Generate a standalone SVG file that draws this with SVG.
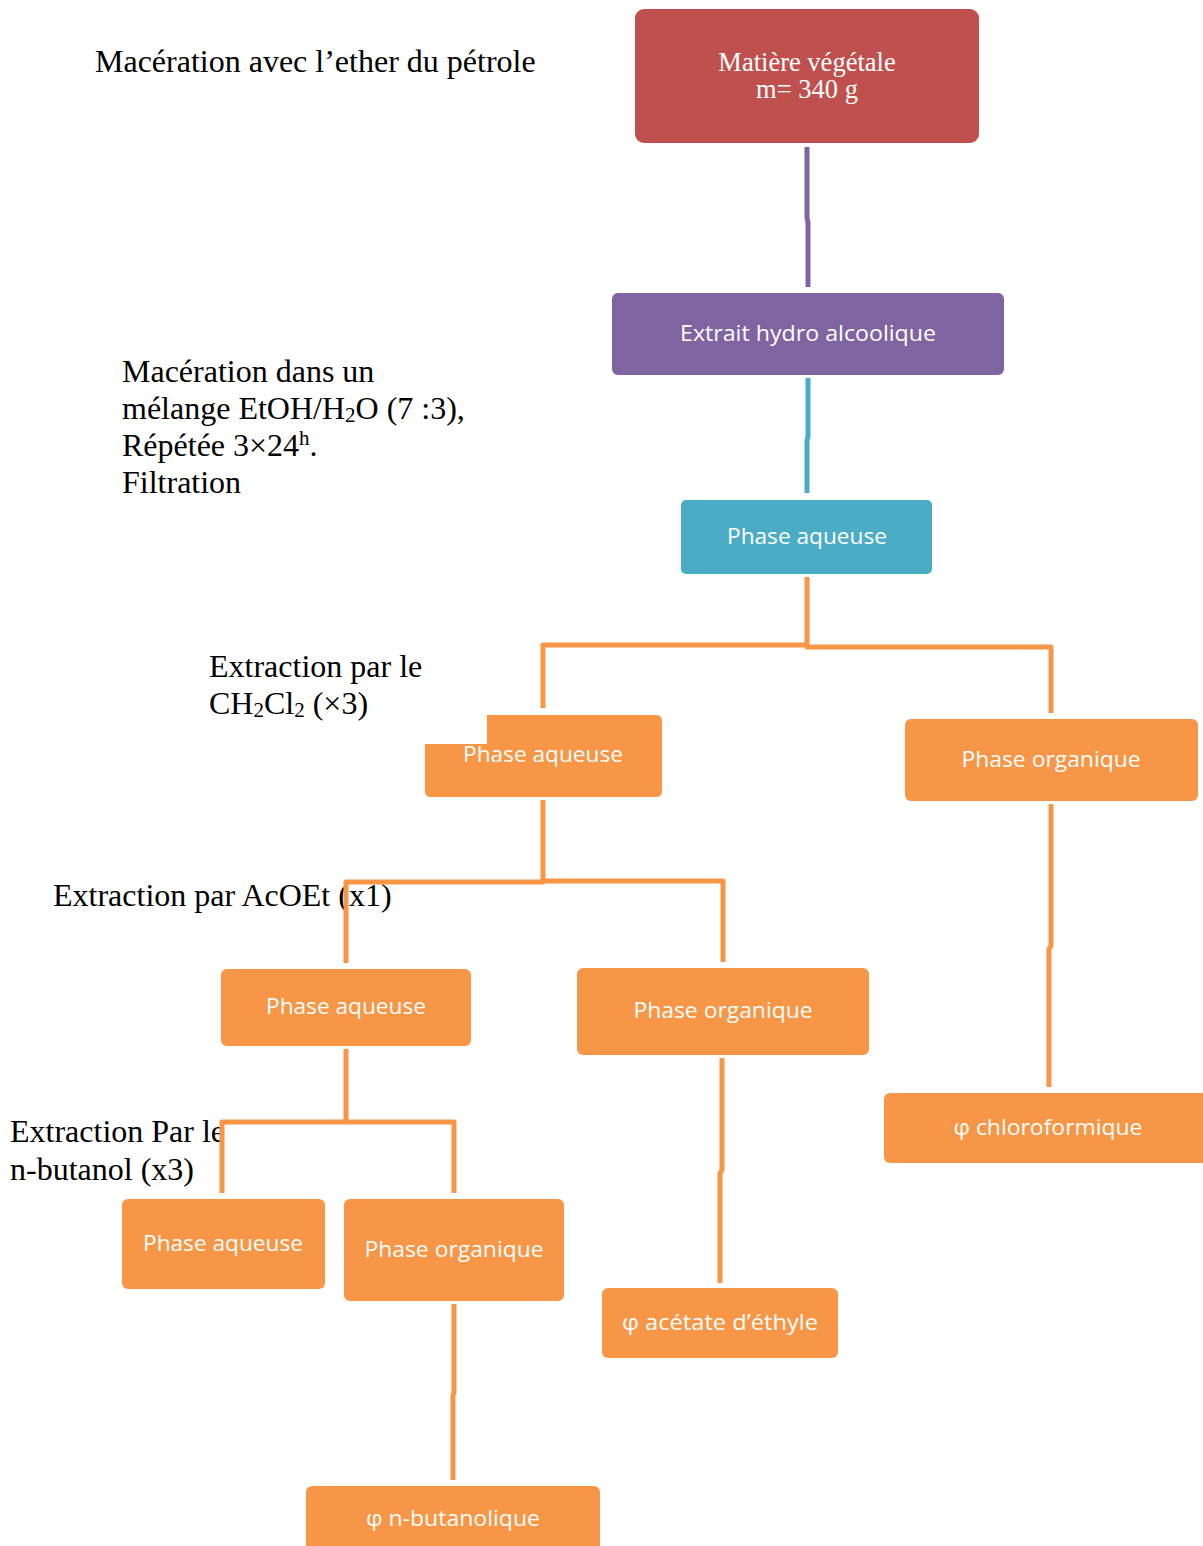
<svg xmlns="http://www.w3.org/2000/svg" width="1203" height="1546" viewBox="0 0 1203 1546">
<style>
.lbl{font-family:"Liberation Serif","Times New Roman",serif;font-size:32px;fill:#000}
.nt{font-family:"Open Sans","Noto Sans","DejaVu Sans",sans-serif;font-size:21px;fill:#fff;text-anchor:middle}
.or{fill:#F79646}
.c{fill:none;stroke-width:5;stroke-linejoin:round}
.co{stroke:#F79646}
.sb{font-size:21px;baseline-shift:-3px}
</style>
<rect width="1203" height="1546" fill="#fff"/>
<g id="labels">
<text class="lbl" x="95" y="72">Macération avec l’ether du pétrole</text>
<text class="lbl" x="122" y="382">Macération dans un</text>
<text class="lbl" x="122" y="419">mélange EtOH/H<tspan class="sb">2</tspan>O (7 :3),</text>
<text class="lbl" x="122" y="456">Répétée 3×24<tspan font-size="21" baseline-shift="11">h</tspan>.</text>
<text class="lbl" x="122" y="493">Filtration</text>
<text class="lbl" x="209" y="677">Extraction par le</text>
<text class="lbl" x="209" y="714">CH<tspan class="sb">2</tspan>Cl<tspan class="sb">2</tspan> (×3)</text>
<text class="lbl" x="53" y="906">Extraction par AcOEt (x1)</text>
<text class="lbl" x="10" y="1142">Extraction Par le</text>
<text class="lbl" x="10" y="1180">n-butanol (x3)</text>
</g>
<g id="connectors">
<path class="c" stroke="#8064A2" d="M807,147 V218 L808,222 V287"/>
<path class="c" stroke="#4BACC6" d="M808,378 V437 L807,440 V493"/>
<path class="c co" d="M807,577 V645 H543 V708"/>
<path class="c co" d="M807,645 V647 H1051 V713"/>
<path class="c co" d="M543,800 V882 H346 V963"/>
<path class="c co" d="M543,882 V881 H723 V962"/>
<path class="c co" d="M1051,804 V946 L1049,949 V1087"/>
<path class="c co" d="M722,1058 V1170 L720,1173 V1283"/>
<path class="c co" d="M346,1049 V1122 H222 V1193"/>
<path class="c co" d="M346,1122 H454 V1193"/>
<path class="c co" d="M454,1304 V1393 L453,1395 V1480"/>
</g>
<g id="n1">
<rect x="635" y="9" width="344" height="134" rx="9" fill="#C0504D"/>
<text x="807" y="71" font-family="Liberation Serif,serif" font-size="26.5" fill="#fff" text-anchor="middle">Matière végétale</text>
<text x="807" y="98" font-family="Liberation Serif,serif" font-size="26.5" fill="#fff" text-anchor="middle">m= 340 g</text>
</g>
<g id="n2">
<rect x="612" y="293" width="392" height="82" rx="6" fill="#8064A2"/>
<text class="nt" x="808" y="341" textLength="256" lengthAdjust="spacingAndGlyphs">Extrait hydro alcoolique</text>
</g>
<g id="n3">
<rect x="681" y="500" width="251" height="74" rx="5" fill="#4BACC6"/>
<text class="nt" x="807" y="544" textLength="160" lengthAdjust="spacingAndGlyphs">Phase aqueuse</text>
</g>
<g id="n4">
<path class="or" d="M487,715 H656 Q662,715 662,721 V791 Q662,797 656,797 H431 Q425,797 425,791 V744 H487 Z"/>
<text class="nt" x="543" y="762" textLength="160" lengthAdjust="spacingAndGlyphs">Phase aqueuse</text>
</g>
<g id="n5">
<rect class="or" x="905" y="719" width="293" height="82" rx="6"/>
<text class="nt" x="1051" y="767" textLength="179" lengthAdjust="spacingAndGlyphs">Phase organique</text>
</g>
<g id="n6">
<rect class="or" x="221" y="969" width="250" height="77" rx="6"/>
<text class="nt" x="346" y="1014" textLength="160" lengthAdjust="spacingAndGlyphs">Phase aqueuse</text>
</g>
<g id="n7">
<rect class="or" x="577" y="968" width="292" height="87" rx="6"/>
<text class="nt" x="723" y="1018" textLength="179" lengthAdjust="spacingAndGlyphs">Phase organique</text>
</g>
<g id="n8">
<rect class="or" x="884" y="1093" width="325" height="70" rx="6"/>
<text class="nt" x="1048" y="1135" textLength="189" lengthAdjust="spacingAndGlyphs">φ chloroformique</text>
</g>
<g id="n9">
<rect class="or" x="602" y="1288" width="236" height="70" rx="6"/>
<text class="nt" x="720" y="1330" textLength="196" lengthAdjust="spacingAndGlyphs">φ acétate d’éthyle</text>
</g>
<g id="n10">
<rect class="or" x="122" y="1199" width="203" height="90" rx="6"/>
<text class="nt" x="223" y="1251" textLength="160" lengthAdjust="spacingAndGlyphs">Phase aqueuse</text>
</g>
<g id="n11">
<rect class="or" x="344" y="1199" width="220" height="102" rx="6"/>
<text class="nt" x="454" y="1257" textLength="179" lengthAdjust="spacingAndGlyphs">Phase organique</text>
</g>
<g id="n12">
<rect class="or" x="306" y="1486" width="294" height="70" rx="6"/>
<text class="nt" x="453" y="1526" textLength="174" lengthAdjust="spacingAndGlyphs">φ n-butanolique</text>
</g>
</svg>
